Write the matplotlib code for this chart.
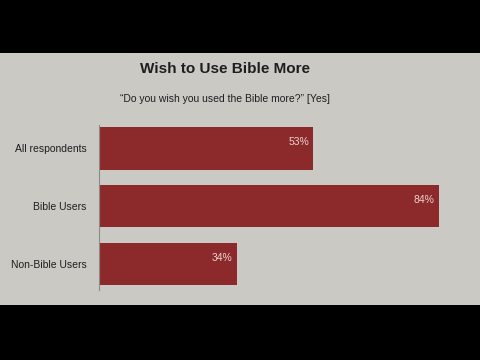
import matplotlib.pyplot as plt
from matplotlib.patches import Rectangle

categories = ['All respondents', 'Bible Users', 'Non-Bible Users']
values = [53, 84, 34]

bg = '#cac9c4'
bar_color = '#8c2a2b'
font = ['Liberation Sans', 'DejaVu Sans']

fig = plt.figure(figsize=(4.8, 3.6), dpi=100, facecolor='black')

# grey slide area between the black bands
fig.patches.append(Rectangle((0, 55 / 360), 1, 252 / 360, transform=fig.transFigure,
                             facecolor=bg, edgecolor='none', zorder=-5))

fig.text(225 / 480, 1 - 69 / 360, 'Wish to Use Bible More', ha='center', va='center',
         fontsize=11, fontweight='bold', family=font, color='#1e1e1e')
fig.text(225 / 480, 1 - 99 / 360, '\u201cDo you wish you used the Bible more?\u201d [Yes]',
         ha='center', va='center', fontsize=7.5, family=font, color='#1e1e1e')

ax = fig.add_axes([99 / 480, 70 / 360, 364 / 480, 165 / 360])
ax.set_zorder(2)
ax.set_facecolor('none')
ax.barh(categories, values, height=0.74, color=bar_color)
ax.set_xlim(0, 90)
ax.set_ylim(2.45, -0.4)

for i, v in enumerate(values):
    ax.text(v - 1, i - 0.1, f'{v}%', ha='right', va='center', fontsize=7.5,
            family=font, color='#ead3cf')

for s in ['top', 'right', 'bottom']:
    ax.spines[s].set_visible(False)
ax.spines['left'].set_color('#8a8a8a')
ax.spines['left'].set_linewidth(0.8)
ax.set_xticks([])
ax.tick_params(axis='y', length=0, pad=9, labelsize=7.5, labelcolor='#1e1e1e')
for lbl in ax.get_yticklabels():
    lbl.set_family(font)

fig.savefig('out.png', dpi=100, facecolor='black')
